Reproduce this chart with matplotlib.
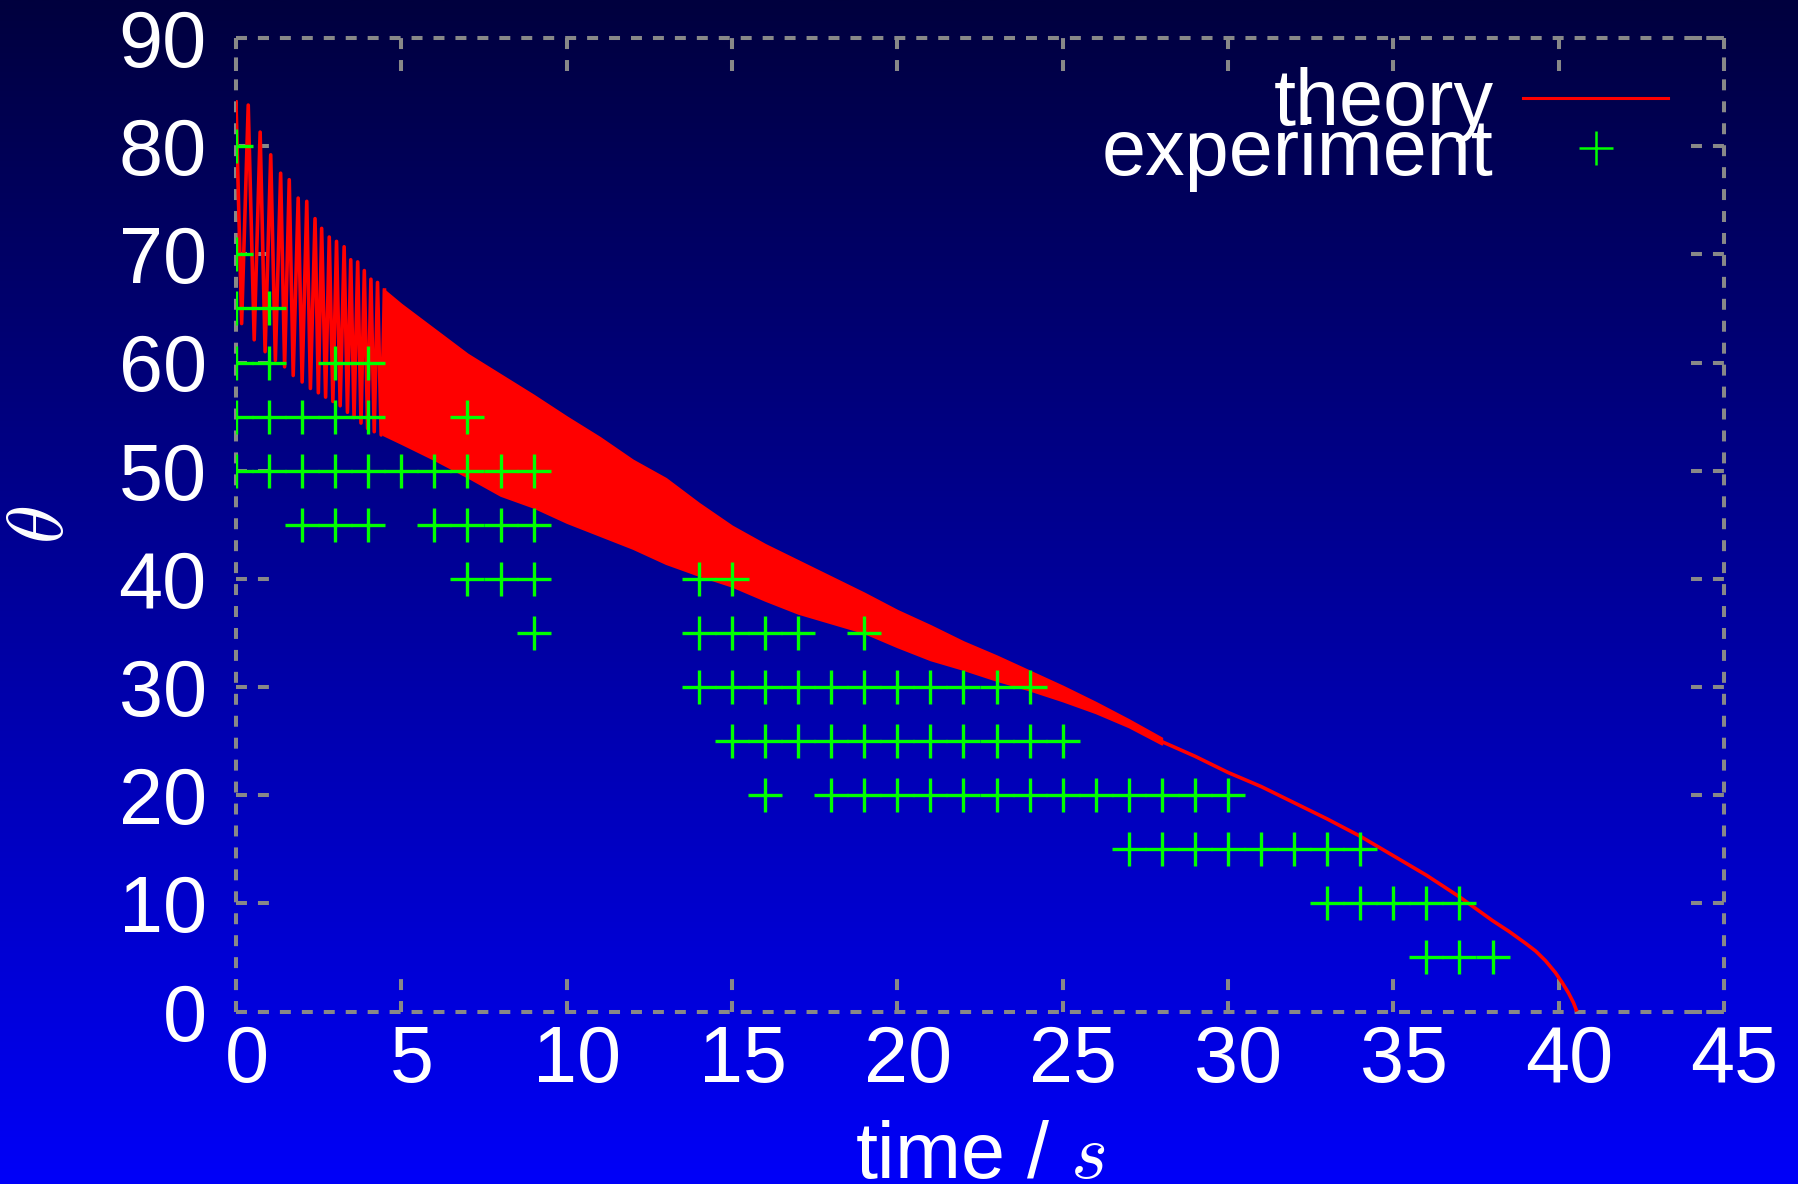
import numpy as np
import matplotlib
matplotlib.use("Agg")
import matplotlib.pyplot as plt
import matplotlib.transforms as mtransforms
from matplotlib.lines import Line2D

plt.rcParams["font.family"] = ["Liberation Sans", "DejaVu Sans"]
plt.rcParams["mathtext.fontset"] = "cm"
plt.rcParams["lines.scale_dashes"] = False

# ---------------- data ----------------
# theory: individually resolved early oscillations (alternating peak / trough)
osc_t = [0.00, 0.17, 0.37, 0.55, 0.73, 0.88, 1.05, 1.19, 1.35, 1.47, 1.61, 1.73,
         1.88, 2.00, 2.14, 2.25, 2.39, 2.49, 2.59, 2.71, 2.82, 2.93, 3.04, 3.15,
         3.27, 3.37, 3.47, 3.57, 3.68, 3.78, 3.88, 3.98, 4.08, 4.18, 4.28, 4.39, 4.49]
osc_theta = [84.1, 63.6, 83.8, 62.1, 81.3, 61.0, 79.2, 60.2, 77.5, 59.6, 76.9, 58.8,
             75.2, 58.2, 74.9, 57.6, 73.3, 57.2, 72.4, 56.8, 71.6, 56.4, 71.2, 56.0,
             70.7, 55.4, 69.5, 54.9, 69.3, 54.4, 68.5, 53.9, 67.7, 53.6, 67.4, 53.3, 66.7]

# theory: dense oscillation band (upper / lower envelope)
band_t = [4.45, 5, 6, 7, 8, 9, 10, 11, 12, 13, 14, 15, 16, 17, 18, 19, 20, 21, 22,
          23, 24, 25, 26, 27, 28]
band_upper = [66.8, 65.4, 63.1, 60.8, 58.9, 57.0, 55.0, 53.1, 51.0, 49.3, 47.0, 44.9,
              43.2, 41.7, 40.2, 38.7, 37.1, 35.7, 34.2, 32.9, 31.5, 30.1, 28.6, 27.0, 25.3]
band_lower = [53.3, 52.5, 51.0, 49.4, 47.7, 46.6, 45.2, 44.0, 42.8, 41.4, 40.3, 39.3,
              38.0, 36.8, 35.9, 35.0, 33.7, 32.5, 31.6, 30.6, 29.7, 28.7, 27.6, 26.3, 24.7]

# theory: smooth tail
tail_t = [28, 29, 30, 31, 32, 33, 34, 35, 36, 37, 38, 38.5, 39, 39.3, 39.6, 39.9,
          40.1, 40.3, 40.45, 40.55]
tail_theta = [24.95, 23.6, 22.1, 20.8, 19.3, 17.8, 16.2, 14.4, 12.6, 10.6, 8.4, 7.4,
              6.3, 5.6, 4.7, 3.6, 2.7, 1.7, 0.8, 0.0]

# experiment: measured times (s) for each angle level
exp_levels = [80, 70, 65, 60, 55, 50, 45, 40, 35, 30, 25, 20, 15, 10, 5]
exp_times = [
    [0],
    [0],
    [0, 1],
    [0, 1, 3, 4],
    [0, 1, 2, 3, 4, 7],
    [0, 1, 2, 3, 4, 5, 6, 7, 8, 9],
    [2, 3, 4, 6, 7, 8, 9],
    [7, 8, 9, 14, 15],
    [9, 14, 15, 16, 17, 19],
    [14, 15, 16, 17, 18, 19, 20, 21, 22, 23, 24],
    [15, 16, 17, 18, 19, 20, 21, 22, 23, 24, 25],
    [16, 18, 19, 20, 21, 22, 23, 24, 25, 26, 27, 28, 29, 30],
    [27, 28, 29, 30, 31, 32, 33, 34],
    [33, 34, 35, 36, 37],
    [36, 37, 38],
]

xticks = [0, 5, 10, 15, 20, 25, 30, 35, 40, 45]
yticks = [0, 10, 20, 30, 40, 50, 60, 70, 80, 90]

exp_t = [t for lev, ts in zip(exp_levels, exp_times) for t in ts]
exp_theta = [lev for lev, ts in zip(exp_levels, exp_times) for t in ts]

# ---------------- figure ----------------
W, H = 1798, 1184
fig = plt.figure(figsize=(W / 100, H / 100), dpi=100)

# background gradient
bg = fig.add_axes([0, 0, 1, 1], zorder=-10)
top_c = np.array([0, 0, 62]) / 255.0
bot_c = np.array([0, 0, 248]) / 255.0
frac = np.linspace(0, 1, 256)[:, None]
grad = (top_c[None, :] * (1 - frac) + bot_c[None, :] * frac)[:, None, :]
bg.imshow(grad, aspect="auto", extent=[0, 1, 0, 1], interpolation="bilinear")
bg.set_axis_off()

left, right, top, bottom = 236, 1724, 38, 1011.5
ax = fig.add_axes([left / W, 1 - bottom / H, (right - left) / W, (bottom - top) / H])
ax.set_facecolor("none")
ax.set_xlim(0, 45)
ax.set_ylim(0, 90)

gray = "#888888"
dash = (0, (7.9, 7.9))
for sp in ax.spines.values():
    sp.set_color(gray)
    sp.set_linewidth(2.9)
    sp.set_linestyle(dash)
    sp.set_capstyle("butt")

# dashed tick marks (all four sides)
xl = 33 / (bottom - top)
yl = 33 / (right - left)
tick_kw = dict(colors=gray, linewidth=2.9, linestyles=[dash], zorder=1, clip_on=False)
ax.vlines(xticks, 0, xl, transform=ax.get_xaxis_transform(), **tick_kw)
ax.vlines(xticks, 1 - xl, 1, transform=ax.get_xaxis_transform(), **tick_kw)
ax.hlines(yticks, 0, yl, transform=ax.get_yaxis_transform(), **tick_kw)
ax.hlines(yticks, 1 - yl, 1, transform=ax.get_yaxis_transform(), **tick_kw)

# theory
red = "#ff0000"
ax.plot(osc_t, osc_theta, color=red, lw=2.6, zorder=3, solid_joinstyle="round")
ax.fill_between(band_t, band_lower, band_upper, color=red, lw=1.2, zorder=3)
ax.plot(tail_t, tail_theta, color=red, lw=2.6, zorder=3, solid_capstyle="butt")

# experiment
green = "#00ff00"
ax.plot(exp_t, exp_theta, ls="none", marker="+", ms=25, mew=2.4, color=green, zorder=4)

# ticks & labels
fs = 57
ax.set_xticks(xticks)
ax.set_yticks(yticks)
ax.set_xticklabels([str(v) for v in xticks])
ax.set_yticklabels([str(v) for v in yticks])
ax.tick_params(axis="both", length=0, labelsize=fs, labelcolor="white")
ax.tick_params(axis="x", pad=9)
ax.tick_params(axis="y", pad=21)
off = mtransforms.ScaledTranslation(0.105, 0, fig.dpi_scale_trans)
for lab in ax.get_xticklabels():
    lab.set_transform(lab.get_transform() + off)

ax.set_xlabel("time / $s$", fontsize=fs, color="white", va="baseline")
ax.xaxis.set_label_coords(0.5, (bottom - 1178) / (bottom - top))
ax.set_ylabel(r"$\theta$", fontsize=fs, color="white", va="center")
ax.yaxis.set_label_coords((42 - left) / (right - left), 0.5)

# legend
h1 = Line2D([], [], color=red, lw=2.2)
h2 = Line2D([], [], color=green, marker="+", ls="none", ms=25, mew=1.8)
lx = (1668 - left) / (right - left)
common = dict(loc="center right", frameon=False, fontsize=fs, handlelength=1.83,
              handletextpad=0.37, markerfirst=False, borderpad=0, borderaxespad=0,
              labelcolor="white")
leg1 = ax.legend([h1], ["theory"], bbox_to_anchor=(lx, (bottom - 105) / (bottom - top)), **common)
ax.add_artist(leg1)
leg2 = ax.legend([h2], ["experiment"], bbox_to_anchor=(lx, (bottom - 155) / (bottom - top)), **common)

fig.savefig("out.png", dpi=100)
